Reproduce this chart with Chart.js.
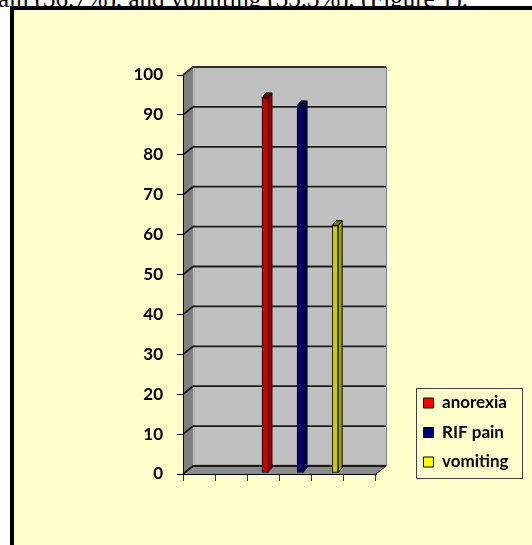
<!DOCTYPE html>
<html><head><meta charset="utf-8">
<script src="https://cdn.jsdelivr.net/npm/chart.js@4.4.1/dist/chart.umd.min.js"></script>
<style>
html,body{margin:0;padding:0;width:532px;height:545px;overflow:hidden;background:#fff;}
#txt{position:absolute;left:-2px;top:-15px;font:25px "Liberation Serif","Times New Roman",serif;white-space:nowrap;color:#000;}
#box{position:absolute;left:10px;top:6px;width:600px;height:600px;border:4px solid #000;background:#FFFFCC;}
#c{position:absolute;left:0;top:0;}
</style></head><body>
<div id="txt">ain (36.7%), and vomiting (33.3%), (Figure 1).</div>
<div id="box"></div>
<canvas id="c" width="532" height="545"></canvas>
<script>
// ---- data ----
const SERIES = ['anorexia', 'RIF pain', 'vomiting'];
const SLOT_LABELS = ['', '', '', '', '', ''];                 // front x-axis tick slots
const BAR_SLOTS = ['', '', '', '', '', '', '', '', '', '', '']; // bar positions
const ANOREXIA = [null, null, null, null, 94, null, null, null, null, null, null];
const RIF_PAIN = [null, null, null, null, null, null, 92, null, null, null, null];
const VOMITING = [null, null, null, null, null, null, null, null, 62, null, null];
const Y_MIN = 0, Y_MAX = 100, Y_STEP = 10;

// ---- style ----
const FRONT = ['#CC0000', '#000080', '#CCCC00'];
const SIDE = ['#990000', '#000058', '#A3A300'];
const TOPC = ['#7A0000', '#000040', '#7A7A00'];
const LEGEND_COLORS = ['#FF0000', '#000080', '#FFFF00'];
const DEPTH = {dx: 10, dy: -8};
const BAR_DEPTH = {dx: 4, dy: -5};
const BAR_SHIFT = {dx: 3, dy: -1};
const FONT = {family: 'Lato', size: 17, weight: 'bold'};

function poly(ctx, pts, fill, stroke, lw) {
  ctx.beginPath();
  ctx.moveTo(pts[0][0], pts[0][1]);
  for (let i = 1; i < pts.length; i++) ctx.lineTo(pts[i][0], pts[i][1]);
  ctx.closePath();
  if (fill) { ctx.fillStyle = fill; ctx.fill(); }
  if (stroke) { ctx.strokeStyle = stroke; ctx.lineWidth = lw || 1; ctx.stroke(); }
}

const excel3d = {
  id: 'excel3d',
  afterInit(chart) {
    const lg = chart.legend;
    const f = lg.fit.bind(lg);
    lg.fit = function () { f(); this.width = 121; };
  },
  afterLayout(chart) {
    const lg = chart.legend;
    const h = lg.bottom - lg.top;
    lg.bottom = 483; lg.top = 483 - h;
  },
  beforeDraw(chart) {
    const {ctx, chartArea: a} = chart;
    const y = chart.scales.y;
    const L = a.left, R = a.right, T = a.top, B = a.bottom, dx = DEPTH.dx, dy = DEPTH.dy;
    ctx.save();
    poly(ctx, [[L + dx, T + dy], [R + dx, T + dy], [R + dx, B + dy], [L + dx, B + dy]], '#C0C0C0', null);
    poly(ctx, [[L, T], [L + dx, T + dy], [L + dx, B + dy], [L, B]], '#808080', null);
    poly(ctx, [[L, B], [L + dx, B + dy], [R + dx, B + dy], [R, B]], '#8C8C8C', null);
    ctx.strokeStyle = '#A8A8A8'; ctx.lineWidth = 1;
    ctx.beginPath();
    ctx.moveTo(L + dx + 1.5, T + dy); ctx.lineTo(L + dx + 1.5, B + dy - 1.5); ctx.lineTo(R + dx, B + dy - 1.5);
    ctx.stroke();
    ctx.strokeStyle = '#1A1A1A'; ctx.lineWidth = 1.8;
    y.ticks.forEach(t => {
      const py = y.getPixelForValue(t.value);
      ctx.beginPath();
      ctx.moveTo(L, py); ctx.lineTo(L + dx, py + dy); ctx.lineTo(R + dx, py + dy);
      ctx.stroke();
    });
    ctx.lineWidth = 1;
    ctx.strokeStyle = '#404040';
    ctx.beginPath();
    ctx.moveTo(L, T); ctx.lineTo(L + dx, T + dy); ctx.lineTo(R + dx, T + dy);
    ctx.stroke();
    ctx.strokeStyle = '#808080';
    ctx.beginPath();
    ctx.moveTo(R + dx + 0.5, T + dy); ctx.lineTo(R + dx + 0.5, B + dy);
    ctx.stroke();
    ctx.strokeStyle = '#000';
    ctx.beginPath();
    ctx.moveTo(R, B); ctx.lineTo(R + dx, B + dy);
    ctx.stroke();
    ctx.restore();
  },
  beforeDatasetsDraw(chart) {
    chart.ctx.save();
    chart.ctx.translate(BAR_SHIFT.dx, BAR_SHIFT.dy);
  },
  afterDatasetsDraw(chart) {
    const ctx = chart.ctx;
    const bdx = BAR_DEPTH.dx, bdy = BAR_DEPTH.dy;
    chart.data.datasets.forEach((ds, i) => {
      const meta = chart.getDatasetMeta(i);
      meta.data.forEach((bar, j) => {
        if (ds.data[j] == null) return;
        const p = bar.getProps(['x', 'y', 'base', 'width'], true);
        const l = p.x - p.width / 2, r = p.x + p.width / 2;
        poly(ctx, [[r, p.y], [r + bdx, p.y + bdy], [r + bdx, p.base + bdy], [r, p.base]], SIDE[i], '#000', 1);
        poly(ctx, [[l, p.y], [l + bdx, p.y + bdy], [r + bdx, p.y + bdy], [r, p.y]], TOPC[i], '#000', 1);
      });
    });
    ctx.restore();
  },
  afterDraw(chart) {
    const hb = chart.legend.legendHitBoxes;
    if (!hb || !hb.length) return;
    let l = Infinity, t = Infinity, r = -Infinity, b = -Infinity;
    hb.forEach(h => { l = Math.min(l, h.left); t = Math.min(t, h.top); r = Math.max(r, h.left + h.width); b = Math.max(b, h.top + h.height); });
    const ctx = chart.ctx;
    ctx.save();
    ctx.strokeStyle = '#404040'; ctx.lineWidth = 1;
    ctx.strokeRect(Math.round(l - 8) + 0.5, Math.round(t - 6.5) + 0.5, Math.round(r - l + 21), Math.round(b - t + 14));
    ctx.restore();
  }
};

const datasets = [ANOREXIA, RIF_PAIN, VOMITING].map((d, i) => ({
  label: SERIES[i],
  data: d,
  xAxisID: 'xb',
  yAxisID: 'y',
  backgroundColor: FRONT[i],
  borderColor: '#000',
  borderWidth: 1,
  borderSkipped: false,
  barThickness: 6,
  grouped: false
}));

new Chart(document.getElementById('c'), {
  type: 'bar',
  data: {labels: BAR_SLOTS, datasets},
  options: {
    responsive: false,
    animation: false,
    devicePixelRatio: 1,
    layout: {padding: {top: 75, left: 0, right: 0, bottom: 0}},
    scales: {
      x: {
        type: 'category', labels: SLOT_LABELS, position: 'bottom', offset: true,
        grid: {offset: true, drawOnChartArea: false, tickLength: 7, color: '#333'},
        ticks: {display: false},
        border: {display: true, color: '#000', width: 1},
        afterFit(s) { s.height = 71; }
      },
      xb: {type: 'category', labels: BAR_SLOTS, position: 'bottom', offset: true, display: false},
      y: {
        min: Y_MIN, max: Y_MAX,
        ticks: {stepSize: Y_STEP, color: '#000', padding: 14, font: FONT},
        grid: {drawOnChartArea: false, tickLength: 6, color: '#000'},
        border: {display: true, color: '#000', width: 1},
        afterFit(s) { s.width = 183; }
      },
      gap: {
        type: 'linear', position: 'right', display: true,
        grid: {display: false, drawTicks: false}, ticks: {display: false}, border: {display: false},
        afterFit(s) { s.width = 35; }
      }
    },
    plugins: {
      tooltip: {enabled: false},
      legend: {
        position: 'right', align: 'end', fullSize: false,
        labels: {
          boxWidth: 10, boxHeight: 10, padding: 12.5, color: '#000', font: FONT,
          generateLabels(chart) {
            const items = Chart.defaults.plugins.legend.labels.generateLabels(chart);
            items.forEach((it, i) => { it.fillStyle = LEGEND_COLORS[i]; it.strokeStyle = '#000'; it.lineWidth = 1; });
            return items;
          }
        }
      }
    }
  },
  plugins: [excel3d]
});
</script>
</body></html>
